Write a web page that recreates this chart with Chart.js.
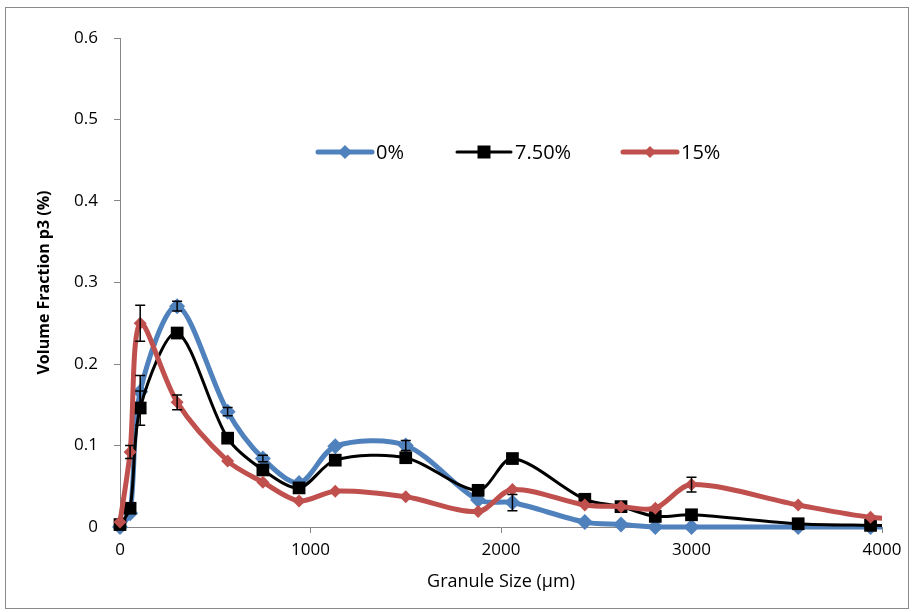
<!DOCTYPE html>
<html lang="en">
<head>
<meta charset="UTF-8">
<title>Volume Fraction vs Granule Size</title>
<script src="https://cdn.jsdelivr.net/npm/chart.js"></script>
<style>
  body { margin: 0; background: #fff; }
</style>
</head>
<body>
<canvas id="sizeChart" width="912" height="612"></canvas>
<script>
// granule sizes (um) - last one sits past the axis and gets clipped
const granuleSizes = [0, 53, 106, 300, 565, 750, 940, 1130, 1500, 1880, 2060, 2440, 2630, 2810, 3000, 3560, 3940, 4500];

const frac0   = [0, 0.017, 0.166, 0.271, 0.1415, 0.084, 0.054, 0.099, 0.100, 0.033, 0.030, 0.006, 0.003, 0, 0, 0, 0, 0];
const frac75  = [0.003, 0.023, 0.146, 0.238, 0.109, 0.070, 0.048, 0.082, 0.085, 0.045, 0.084, 0.034, 0.025, 0.013, 0.015, 0.004, 0.002, 0];
const frac15  = [0.006, 0.092, 0.250, 0.153, 0.081, 0.055, 0.032, 0.044, 0.037, 0.019, 0.046, 0.027, 0.025, 0.023, 0.052, 0.027, 0.012, 0.004];

// error bar half-heights
const err0  = [0, 0, 0.020, 0.006, 0.005, 0.004, 0, 0, 0.006, 0, 0.010, 0, 0, 0, 0, 0, 0, 0];
const err75 = [0, 0, 0.021, 0, 0, 0, 0, 0, 0, 0, 0, 0, 0, 0, 0, 0, 0, 0];
const err15 = [0, 0.008, 0.022, 0.009, 0, 0, 0, 0, 0, 0, 0, 0, 0, 0, 0.009, 0, 0, 0];

const xTicks = [0, 1000, 2000, 3000, 4000];
const yTicks = [0, 0.1, 0.2, 0.3, 0.4, 0.5, 0.6];

const seriesNames = ['0%', '7.50%', '15%'];
const BLUE = '#4F81BD', BLACK = '#000000', RED = '#C0504D';

function toPoints(vals) {
    return granuleSizes.map((g, i) => ({ x: g, y: vals[i] }));
}

// error bars, drawn on top of the lines
const errorBars = {
    id: 'errorBars',
    afterDatasetsDraw(chart) {
        const ctx = chart.ctx;
        const xs = chart.scales.x, ys = chart.scales.y;
        ctx.save();
        ctx.beginPath();
        ctx.rect(chart.chartArea.left - 10, chart.chartArea.top, chart.chartArea.width + 10, chart.chartArea.height + 10);
        ctx.clip();
        ctx.strokeStyle = '#000';
        ctx.lineWidth = 1.5;
        chart.data.datasets.forEach(ds => {
            (ds.errors || []).forEach((e, i) => {
                if (!e) return;
                const px = xs.getPixelForValue(ds.data[i].x);
                const top = ys.getPixelForValue(ds.data[i].y + e);
                const bot = ys.getPixelForValue(ds.data[i].y - e);
                ctx.beginPath();
                ctx.moveTo(px, top); ctx.lineTo(px, bot);
                ctx.moveTo(px - 5, top); ctx.lineTo(px + 5, top);
                ctx.moveTo(px - 5, bot); ctx.lineTo(px + 5, bot);
                ctx.stroke();
            });
        });
        ctx.restore();
    }
};

// excel-style legend sitting inside the plot, plus the outer frame
const legendAndFrame = {
    id: 'legendAndFrame',
    afterDraw(chart) {
        const ctx = chart.ctx;
        ctx.save();
        ctx.strokeStyle = '#8a8a8a';
        ctx.lineWidth = 1;
        ctx.strokeRect(5.5, 7.5, 903, 601);

        const yMid = 152;
        const items = [
            { x: 318, color: BLUE, width: 5, style: 'diamond', r: 7 },
            { x: 457, color: BLACK, width: 3, style: 'square', r: 6.5 },
            { x: 623, color: RED, width: 5, style: 'diamond', r: 6 }
        ];
        ctx.font = '20px "Open Sans"';
        ctx.textBaseline = 'middle';
        items.forEach((it, i) => {
            ctx.strokeStyle = it.color;
            ctx.lineWidth = it.width;
            ctx.lineCap = 'round';
            ctx.beginPath();
            ctx.moveTo(it.x, yMid); ctx.lineTo(it.x + 54, yMid);
            ctx.stroke();
            const cx = it.x + 27;
            ctx.fillStyle = it.color;
            ctx.beginPath();
            if (it.style === 'diamond') {
                ctx.moveTo(cx, yMid - it.r); ctx.lineTo(cx + it.r, yMid);
                ctx.lineTo(cx, yMid + it.r); ctx.lineTo(cx - it.r, yMid);
                ctx.closePath();
            } else {
                ctx.rect(cx - it.r, yMid - it.r, it.r * 2, it.r * 2);
            }
            ctx.fill();
            ctx.fillStyle = '#000';
            ctx.fillText(seriesNames[i], it.x + 58, yMid + 1);
        });
        ctx.restore();
    }
};

const axisGrey = '#868686';
const tickFont = { family: '"Open Sans"', size: 17 };

new Chart(document.getElementById('sizeChart'), {
    type: 'scatter',
    data: {
        datasets: [
            {
                label: seriesNames[0], data: toPoints(frac0), errors: err0,
                showLine: true, borderColor: BLUE, backgroundColor: BLUE, borderWidth: 5,
                pointStyle: 'rectRot', pointRadius: 8, pointBorderWidth: 0, tension: 0.3,
                order: 3, clip: { left: 12, top: 10, right: 0, bottom: 12 }
            },
            {
                label: seriesNames[1], data: toPoints(frac75), errors: err75,
                showLine: true, borderColor: BLACK, backgroundColor: BLACK, borderWidth: 3,
                pointStyle: 'rect', pointRadius: 9, pointBorderWidth: 0, tension: 0.3,
                order: 2, clip: { left: 12, top: 10, right: 0, bottom: 12 }
            },
            {
                label: seriesNames[2], data: toPoints(frac15), errors: err15,
                showLine: true, borderColor: RED, backgroundColor: RED, borderWidth: 5,
                pointStyle: 'rectRot', pointRadius: 6.5, pointBorderWidth: 0, tension: 0.3,
                order: 1, clip: { left: 12, top: 10, right: 0, bottom: 12 }
            }
        ]
    },
    options: {
        responsive: false,
        animation: false,
        devicePixelRatio: 1,
        layout: { padding: { left: 0, top: 38, right: 30, bottom: 12 } },
        plugins: {
            legend: { display: false },
            tooltip: { enabled: false }
        },
        scales: {
            x: {
                type: 'linear', min: 0, max: 4000,
                afterBuildTicks: s => { s.ticks = xTicks.map(v => ({ value: v })); },
                afterFit: s => { s.height = 73; },
                grid: { drawOnChartArea: false, drawTicks: true, tickLength: 6, color: axisGrey },
                border: { color: axisGrey, width: 1 },
                ticks: { color: '#000', font: tickFont, padding: 7, maxRotation: 0, callback: v => String(v) },
                title: {
                    display: true, text: 'Granule Size (µm)', color: '#000',
                    font: { family: '"Open Sans"', size: 18 }, padding: { top: 0, bottom: 7 }
                }
            },
            y: {
                type: 'linear', min: 0, max: 0.6,
                afterBuildTicks: s => { s.ticks = yTicks.map(v => ({ value: v })); },
                afterFit: s => { s.width = 120; },
                grid: { drawOnChartArea: false, drawTicks: true, tickLength: 6, color: axisGrey },
                border: { color: axisGrey, width: 1 },
                ticks: { color: '#000', font: tickFont, padding: 16, callback: v => String(v) },
                title: {
                    display: true, text: 'Volume Fraction p3 (%)', color: '#000',
                    font: { family: '"Open Sans"', size: 16, weight: 'bold' }, padding: { top: 35, bottom: 0 }
                }
            }
        }
    },
    plugins: [errorBars, legendAndFrame]
});
</script>
</body>
</html>
